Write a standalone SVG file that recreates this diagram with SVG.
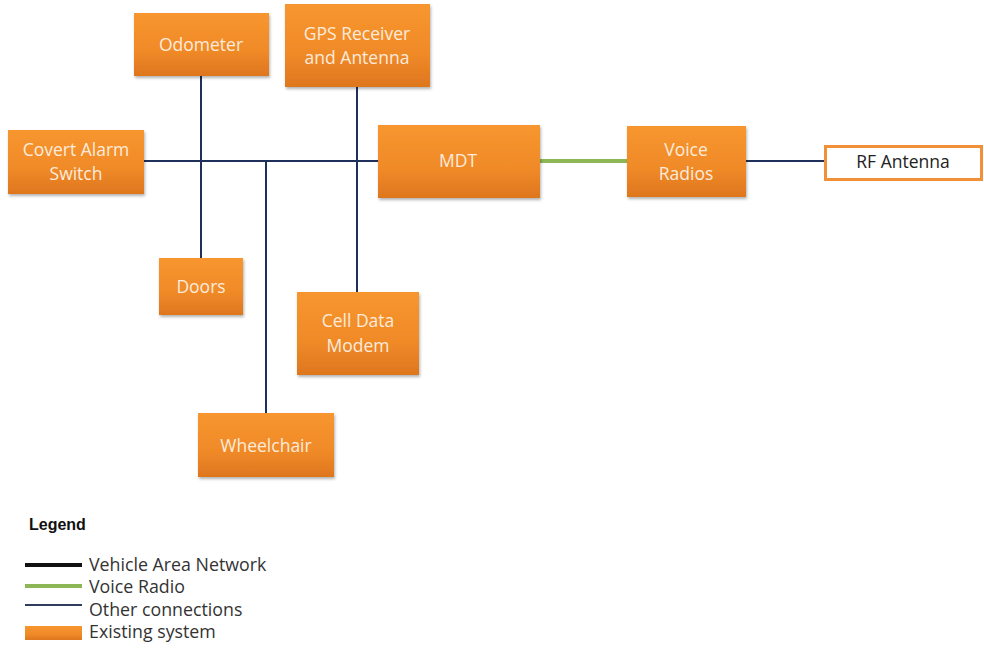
<svg xmlns="http://www.w3.org/2000/svg" width="984" height="648" viewBox="0 0 984 648">
  <defs>
    <linearGradient id="orange" x1="0" y1="0" x2="0" y2="1">
      <stop offset="0" stop-color="#F7962F"/>
      <stop offset="0.6" stop-color="#F08A28"/>
      <stop offset="1" stop-color="#DE761E"/>
    </linearGradient>
    <filter id="shadow" x="-10%" y="-10%" width="130%" height="140%">
      <feDropShadow dx="1" dy="2" stdDeviation="1.5" flood-color="#000" flood-opacity="0.3"/>
    </filter>
  </defs>
  <style>
    .box { fill: url(#orange); filter: url(#shadow); }
    .lbl { font-family: "Open Sans", "Liberation Sans", sans-serif; font-size: 17.5px; fill: #FDEBDD; text-anchor: middle; }
    .net { stroke: #1F2F5C; stroke-width: 2; fill: none; }
    .voice { stroke: #8DB654; stroke-width: 4; fill: none; }
    .leg { font-family: "Open Sans", "Liberation Sans", sans-serif; font-size: 17.8px; fill: #333; }
  </style>
  <rect width="984" height="648" fill="#fff"/>

  <g id="connectors">
    <line class="net" x1="144" y1="161" x2="378" y2="161"/>
    <line class="net" x1="201" y1="76" x2="201" y2="258"/>
    <line class="net" x1="357" y1="87" x2="357" y2="292"/>
    <line class="net" x1="266" y1="161" x2="266" y2="413"/>
    <line class="voice" x1="540" y1="161" x2="627" y2="161"/>
    <line class="net" x1="746" y1="161" x2="825" y2="161"/>
  </g>

  <g id="odometer">
    <rect class="box" x="134" y="13" width="135" height="63"/>
    <text class="lbl" x="201" y="51">Odometer</text>
  </g>
  <g id="gps">
    <rect class="box" x="285" y="4" width="145" height="83"/>
    <text class="lbl" x="357" y="40">GPS Receiver</text>
    <text class="lbl" x="357" y="64">and Antenna</text>
  </g>
  <g id="covert-alarm">
    <rect class="box" x="8" y="130" width="136" height="64"/>
    <text class="lbl" x="76" y="156">Covert Alarm</text>
    <text class="lbl" x="76" y="180">Switch</text>
  </g>
  <g id="mdt">
    <rect class="box" x="378" y="125" width="162" height="73"/>
    <text class="lbl" x="458" y="167">MDT</text>
  </g>
  <g id="voice-radios">
    <rect class="box" x="627" y="126" width="119" height="71"/>
    <text class="lbl" x="686" y="156">Voice</text>
    <text class="lbl" x="686" y="180">Radios</text>
  </g>
  <g id="rf-antenna">
    <rect x="825.5" y="146.5" width="156" height="33" fill="#fff" stroke="#F0913A" stroke-width="3"/>
    <text class="lbl" x="903" y="168" style="fill:#222">RF Antenna</text>
  </g>
  <g id="doors">
    <rect class="box" x="159" y="258" width="84" height="57"/>
    <text class="lbl" x="201" y="293">Doors</text>
  </g>
  <g id="cell-modem">
    <rect class="box" x="297" y="292" width="122" height="83"/>
    <text class="lbl" x="358" y="327">Cell Data</text>
    <text class="lbl" x="358" y="352">Modem</text>
  </g>
  <g id="wheelchair">
    <rect class="box" x="198" y="413" width="136" height="64"/>
    <text class="lbl" x="266" y="452">Wheelchair</text>
  </g>

  <g id="legend">
    <text x="29" y="530" font-family="'Liberation Sans', sans-serif" font-size="16" font-weight="bold" fill="#111">Legend</text>
    <line x1="25" y1="565" x2="82" y2="565" stroke="#111" stroke-width="4"/>
    <line x1="25" y1="586" x2="82" y2="586" stroke="#8DB654" stroke-width="4"/>
    <line x1="25" y1="605" x2="82" y2="605" stroke="#2F3D5E" stroke-width="2"/>
    <rect x="25" y="626" width="57" height="14" fill="url(#orange)"/>
    <text class="leg" x="89" y="571">Vehicle Area Network</text>
    <text class="leg" x="89" y="593">Voice Radio</text>
    <text class="leg" x="89" y="616">Other connections</text>
    <text class="leg" x="89" y="638">Existing system</text>
  </g>
</svg>
